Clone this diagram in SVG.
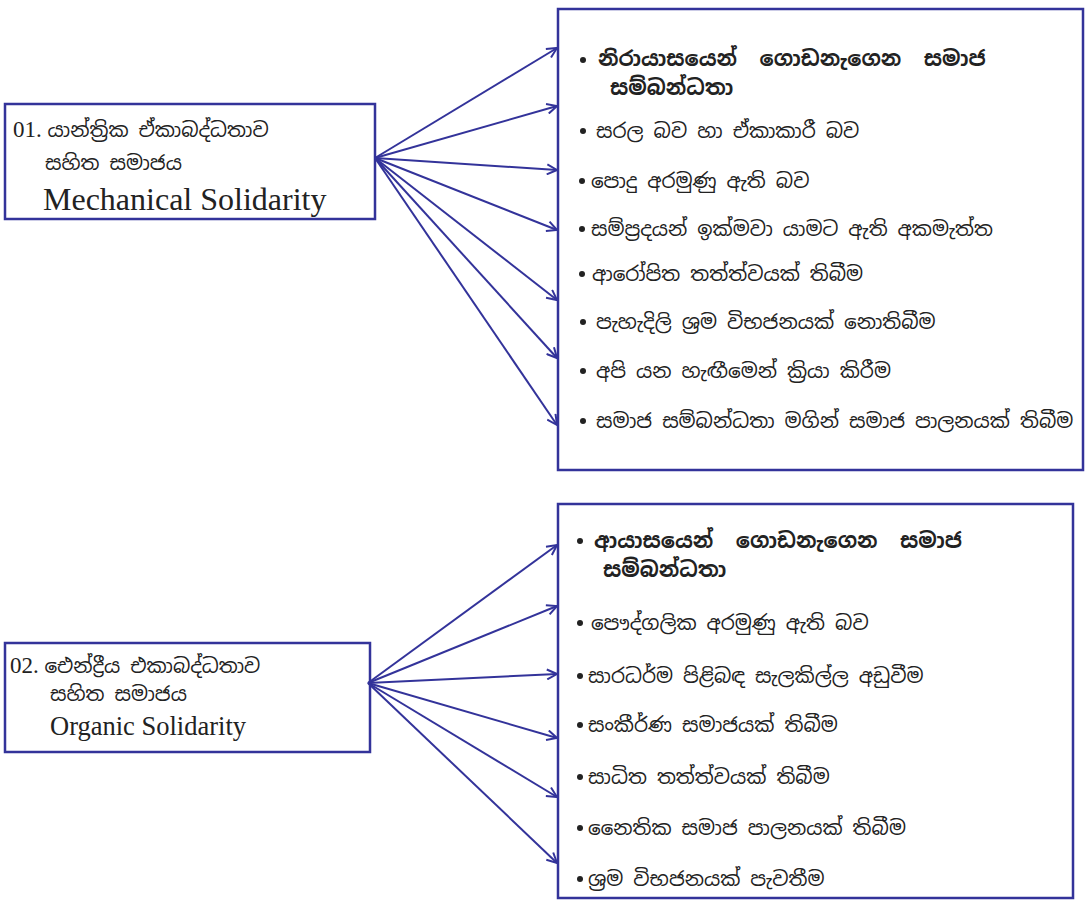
<svg xmlns="http://www.w3.org/2000/svg" width="1085" height="900" viewBox="0 0 1085 900">
<style>
.box{fill:#fff;stroke:#33339a;stroke-width:2.5}
.conn line{stroke:#33339a;stroke-width:2}
.si{font-family:"Noto Sans Sinhala","Noto Serif Sinhala","Iskoola Pota","Noto Sans",sans-serif;font-size:20px;fill:#222}
.b{font-weight:bold;font-size:21px;word-spacing:12px}
.en{font-family:"Liberation Serif",serif;fill:#222}
.bul{fill:#222}
</style>
<defs>
<marker id="ah" viewBox="0 0 12 12" refX="11" refY="6" markerWidth="12" markerHeight="12" markerUnits="userSpaceOnUse" orient="auto">
<path d="M1,1 L11,6 L1,11" fill="none" stroke="#33339a" stroke-width="2"/>
</marker>
</defs>
<rect width="1085" height="900" fill="#fff"/>

<g id="node-mech">
<rect class="box" x="5" y="104" width="370" height="115"/>
<text class="si" x="13" y="137"><tspan class="en" font-size="23">01. </tspan>යාන්ත්‍රික ඒකාබද්ධතාව</text>
<text class="si" x="45" y="170">සහිත සමාජය</text>
<text class="en" x="43" y="210" font-size="32">Mechanical Solidarity</text>
</g>

<g id="node-org">
<rect class="box" x="5" y="643" width="365" height="109"/>
<text class="si" x="10" y="673"><tspan class="en" font-size="23">02. </tspan>ඓන්ද්‍රීය එකාබද්ධතාව</text>
<text class="si" x="50" y="701">සහිත සමාජය</text>
<text class="en" x="50" y="735" font-size="26.5">Organic Solidarity</text>
</g>

<g id="node-mech-list">
<rect class="box" x="558" y="9" width="525" height="461"/>
<circle class="bul" cx="583" cy="60" r="3"/>
<text class="si b" x="598" y="66">නිරායාසයෙන් ගොඩනැගෙන සමාජ</text>
<text class="si b" x="610" y="95">සම්බන්ධතා</text>
<circle class="bul" cx="583" cy="131" r="3"/>
<text class="si" x="596" y="138">සරල බව හා ඒකාකාරී බව</text>
<circle class="bul" cx="582" cy="181" r="3"/>
<text class="si" x="591" y="188">පොදු අරමුණු ඇති බව</text>
<circle class="bul" cx="582" cy="229" r="3"/>
<text class="si" x="591" y="236">සම්ප්‍රදයන් ඉක්මවා යාමට ඇති අකමැත්ත</text>
<circle class="bul" cx="582" cy="274" r="3"/>
<text class="si" x="592" y="281">ආරෝපිත තත්ත්වයක් තිබීම</text>
<circle class="bul" cx="583" cy="322" r="3"/>
<text class="si" x="596" y="329">පැහැදිලි ශ්‍රම විභජනයක් නොතිබීම</text>
<circle class="bul" cx="583" cy="371" r="3"/>
<text class="si" x="596" y="378">අපි යන හැඟීමෙන් ක්‍රියා කිරීම</text>
<circle class="bul" cx="583" cy="421" r="3"/>
<text class="si" x="596" y="428">සමාජ සම්බන්ධතා මගින් සමාජ පාලනයක් තිබීම</text>
</g>

<g id="node-org-list">
<rect class="box" x="558" y="504" width="515" height="394"/>
<circle class="bul" cx="580" cy="541" r="3"/>
<text class="si b" x="594" y="548">ආයාසයෙන් ගොඩනැගෙන සමාජ</text>
<text class="si b" x="603" y="577">සම්බන්ධතා</text>
<circle class="bul" cx="580" cy="623" r="3"/>
<text class="si" x="591" y="630">පෞද්ගලික අරමුණු ඇති බව</text>
<circle class="bul" cx="580" cy="676" r="3"/>
<text class="si" x="588" y="683">සාරධර්ම පිළිබඳ සැලකිල්ල අඩුවීම</text>
<circle class="bul" cx="580" cy="725" r="3"/>
<text class="si" x="588" y="732">සංකීර්ණ සමාජයක් තිබීම</text>
<circle class="bul" cx="580" cy="777" r="3"/>
<text class="si" x="588" y="784">සාධිත තත්ත්වයක් තිබීම</text>
<circle class="bul" cx="580" cy="828" r="3"/>
<text class="si" x="588" y="835">නෛතික සමාජ පාලනයක් තිබීම</text>
<circle class="bul" cx="580" cy="879" r="3"/>
<text class="si" x="588" y="886">ශ්‍රම විභජනයක් පැවතීම</text>
</g>

<g id="connectors" class="conn">
<line x1="375" y1="158" x2="557" y2="48" marker-end="url(#ah)"/>
<line x1="375" y1="158" x2="557" y2="106" marker-end="url(#ah)"/>
<line x1="375" y1="158" x2="557" y2="170" marker-end="url(#ah)"/>
<line x1="375" y1="158" x2="557" y2="230" marker-end="url(#ah)"/>
<line x1="375" y1="158" x2="557" y2="300" marker-end="url(#ah)"/>
<line x1="375" y1="158" x2="557" y2="358" marker-end="url(#ah)"/>
<line x1="375" y1="158" x2="557" y2="425" marker-end="url(#ah)"/>
<line x1="368" y1="683" x2="557" y2="545" marker-end="url(#ah)"/>
<line x1="368" y1="683" x2="557" y2="606" marker-end="url(#ah)"/>
<line x1="368" y1="683" x2="557" y2="674" marker-end="url(#ah)"/>
<line x1="368" y1="683" x2="557" y2="738" marker-end="url(#ah)"/>
<line x1="368" y1="683" x2="557" y2="797" marker-end="url(#ah)"/>
<line x1="368" y1="683" x2="557" y2="863" marker-end="url(#ah)"/>
</g>
</svg>
